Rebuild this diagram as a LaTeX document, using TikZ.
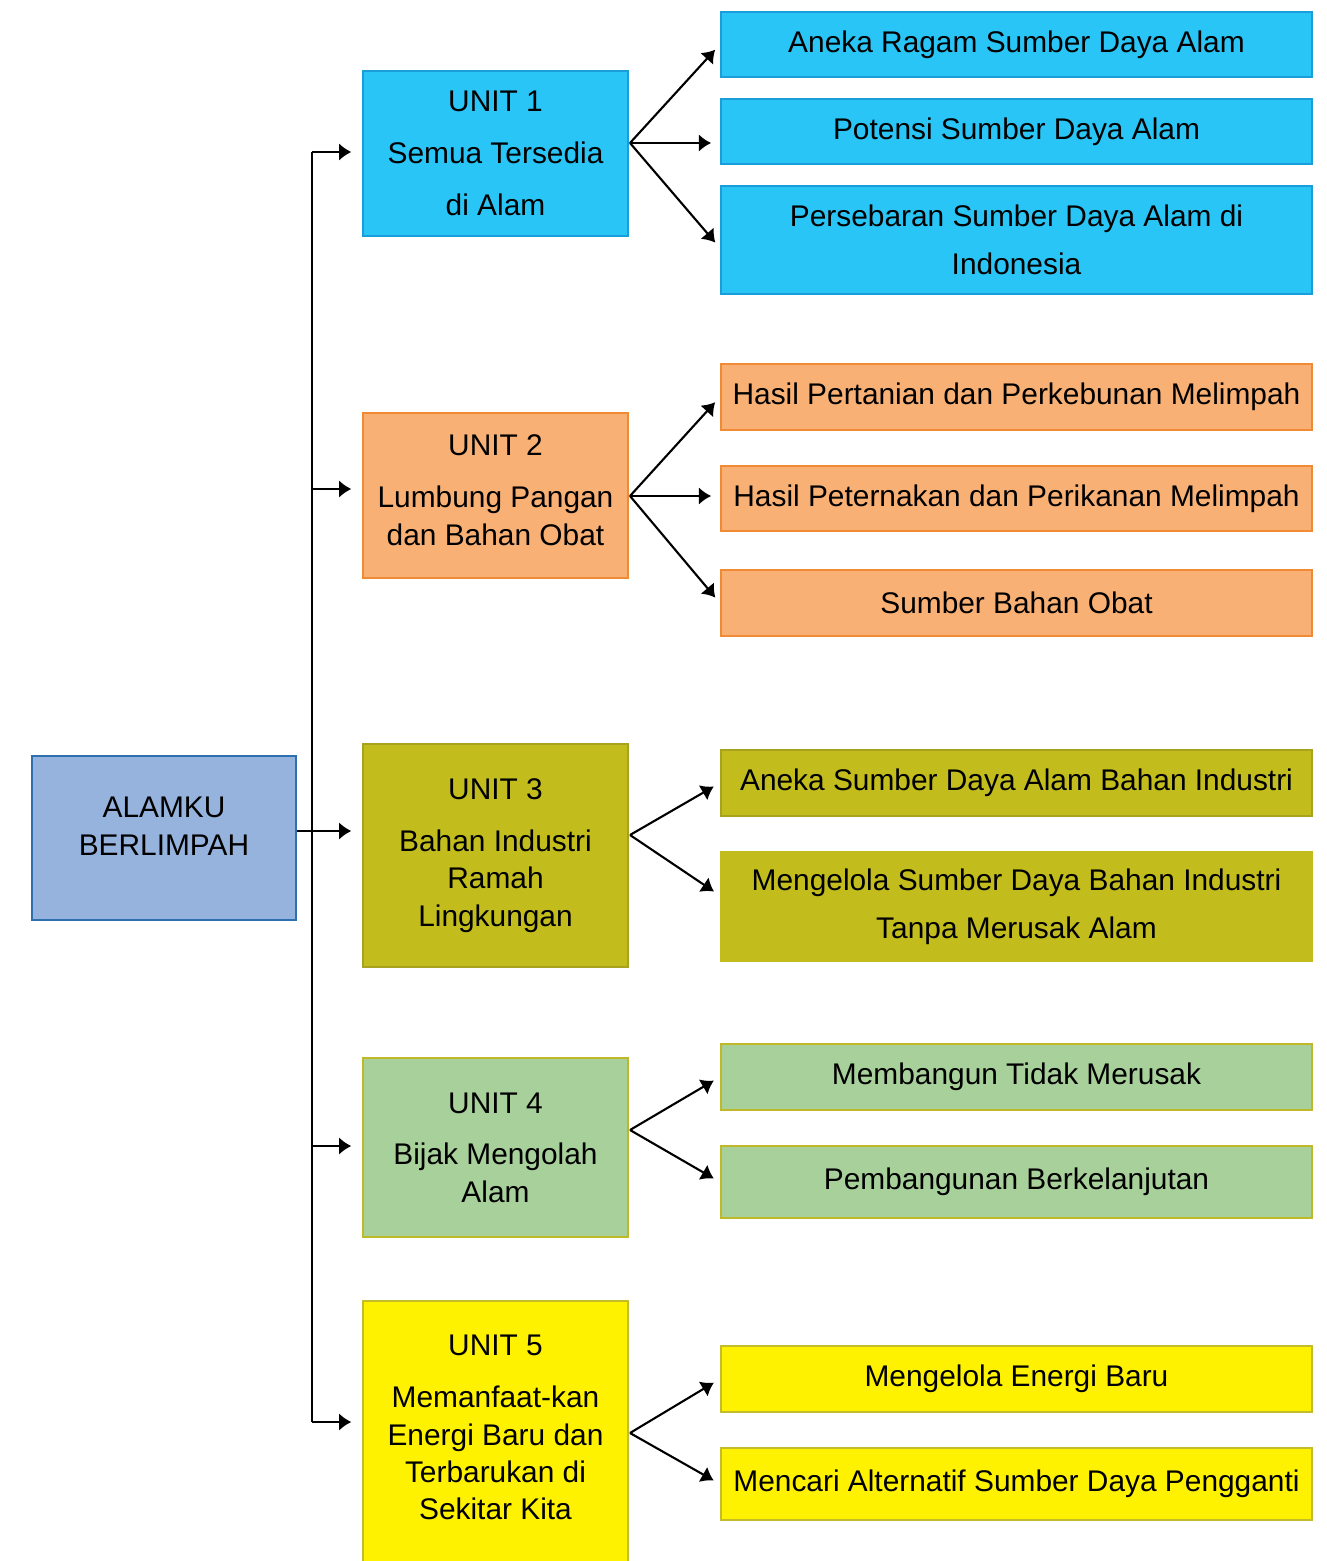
\documentclass[tikz,border=0pt]{standalone}
\usepackage{fontspec}
\setmainfont{Liberation Sans}
\usetikzlibrary{arrows.meta}

\definecolor{rootfill}{HTML}{95B3DD}
\definecolor{rootline}{HTML}{2E6FB0}
\definecolor{cyanfill}{HTML}{29C5F6}
\definecolor{cyanline}{HTML}{1A9ED9}
\definecolor{orangefill}{HTML}{F9B074}
\definecolor{orangeline}{HTML}{F08A34}
\definecolor{olivefill}{HTML}{C2BD1C}
\definecolor{oliveline}{HTML}{A8A31F}
\definecolor{greenfill}{HTML}{A7D09A}
\definecolor{greenline}{HTML}{BFB92A}
\definecolor{yellowfill}{HTML}{FFF200}
\definecolor{yellowline}{HTML}{C5BC2B}

\tikzset{
	box/.style={draw, line width=1.3pt, align=center, inner sep=2pt,
		font=\fontsize{17}{21.3}\selectfont},
	unitbox/.style={box, minimum width=5.3cm},
	subbox/.style={box, minimum width=11.82cm},
	arr/.style={-{Latex[length=7pt,width=10pt]}, line width=1.2pt, shorten >=4pt},
}

\begin{document}
\begin{tikzpicture}[x=0.02cm,y=-0.02cm]
	\useasboundingbox (0,0) rectangle (1326,1561);

	% root
	\node[box, fill=rootfill, draw=rootline, minimum width=5.28cm, minimum height=3.28cm]
		(root) at (164,838) {ALAMKU\\BERLIMPAH\\[-8pt]\mbox{}};

	% units
	\node[unitbox, fill=cyanfill, draw=cyanline, minimum height=3.3cm]
		(u1) at (495.5,153.5) {UNIT 1\\[8.2pt]Semua Tersedia\\[8.2pt]di Alam};
	\node[unitbox, fill=orangefill, draw=orangeline, minimum height=3.3cm]
		(u2) at (495.5,495.5) {UNIT 2\\[8.2pt]Lumbung Pangan\\dan Bahan Obat\\[-15pt]\mbox{}};
	\node[unitbox, fill=olivefill, draw=oliveline, minimum height=4.46cm]
		(u3) at (495.5,855.5) {UNIT 3\\[8.2pt]Bahan Industri\\Ramah\\Lingkungan};
	\node[unitbox, fill=greenfill, draw=greenline, minimum height=3.58cm]
		(u4) at (495.5,1147.5) {UNIT 4\\[8.2pt]Bijak Mengolah\\Alam};
	\node[unitbox, fill=yellowfill, draw=yellowline, minimum height=5.3cm]
		(u5) at (495.5,1433.5) {UNIT 5\\[8.2pt]Memanfaat-kan\\Energi Baru dan\\Terbarukan di\\Sekitar Kita\\[-14.5pt]\mbox{}};

	% sub topics
	\node[subbox, fill=cyanfill, draw=cyanline, minimum height=1.3cm]
		(s11) at (1016.5,44.5) {Aneka Ragam Sumber Daya Alam};
	\node[subbox, fill=cyanfill, draw=cyanline, minimum height=1.3cm]
		(s12) at (1016.5,131.5) {Potensi Sumber Daya Alam};
	\node[subbox, fill=cyanfill, draw=cyanline, minimum height=2.16cm]
		(s13) at (1016.5,240) {Persebaran Sumber Daya Alam di\\[6pt]Indonesia};
	\node[subbox, fill=orangefill, draw=orangeline, minimum height=1.32cm]
		(s21) at (1016.5,397) {Hasil Pertanian dan Perkebunan Melimpah};
	\node[subbox, fill=orangefill, draw=orangeline, minimum height=1.3cm]
		(s22) at (1016.5,498.5) {Hasil Peternakan dan Perikanan Melimpah};
	\node[subbox, fill=orangefill, draw=orangeline, minimum height=1.32cm]
		(s23) at (1016.5,603) {Sumber Bahan Obat};
	\node[subbox, fill=olivefill, draw=oliveline, minimum height=1.32cm]
		(s31) at (1016.5,783) {Aneka Sumber Daya Alam Bahan Industri};
	\node[subbox, fill=olivefill, draw=olivefill, minimum height=2.18cm]
		(s32) at (1016.5,906.5) {Mengelola Sumber Daya Bahan Industri\\[6pt]Tanpa Merusak Alam};
	\node[subbox, fill=greenfill, draw=greenline, minimum height=1.32cm]
		(s41) at (1016.5,1077) {Membangun Tidak Merusak};
	\node[subbox, fill=greenfill, draw=greenline, minimum height=1.44cm]
		(s42) at (1016.5,1182) {Pembangunan Berkelanjutan};
	\node[subbox, fill=yellowfill, draw=yellowline, minimum height=1.32cm]
		(s51) at (1016.5,1379) {Mengelola Energi Baru};
	\node[subbox, fill=yellowfill, draw=yellowline, minimum height=1.44cm]
		(s52) at (1016.5,1484) {Mencari Alternatif Sumber Daya Pengganti};

	% trunk
	\coordinate (t1) at (312,152);
	\coordinate (t2) at (312,489);
	\coordinate (t4) at (312,1146);
	\coordinate (t5) at (312,1422);
	\draw[line width=1.2pt] (t1) -- (t5);
	\draw[arr, shorten >=6pt] (root.east |- 0,831) -- (u3.west |- 0,831);
	\draw[arr, shorten >=6pt] (t1) -- (u1.west |- t1);
	\draw[arr, shorten >=6pt] (t2) -- (u2.west |- t2);
	\draw[arr, shorten >=6pt] (t4) -- (u4.west |- t4);
	\draw[arr, shorten >=6pt] (t5) -- (u5.west |- t5);

	% fans
	\coordinate (f1) at (630,143);
	\coordinate (f2) at (630,496);
	\coordinate (f3) at (630,835);
	\coordinate (f4) at (630,1130);
	\coordinate (f5) at (630,1433);
	\draw[arr] (f1) -- (s11.west);
	\draw[arr, shorten >=5pt] (f1) -- (s12.west |- f1);
	\draw[arr] (f1) -- ([yshift=-0.16cm]s13.west);
	\draw[arr] (f2) -- (s21.west);
	\draw[arr, shorten >=5pt] (f2) -- (s22.west |- f2);
	\draw[arr] (f2) -- (s23.west);
	\draw[arr] (f3) -- (s31.west);
	\draw[arr] (f3) -- ([yshift=0.22cm]s32.west);
	\draw[arr] (f4) -- (s41.west);
	\draw[arr] (f4) -- (s42.west);
	\draw[arr] (f5) -- (s51.west);
	\draw[arr] (f5) -- (s52.west);
\end{tikzpicture}
\end{document}
